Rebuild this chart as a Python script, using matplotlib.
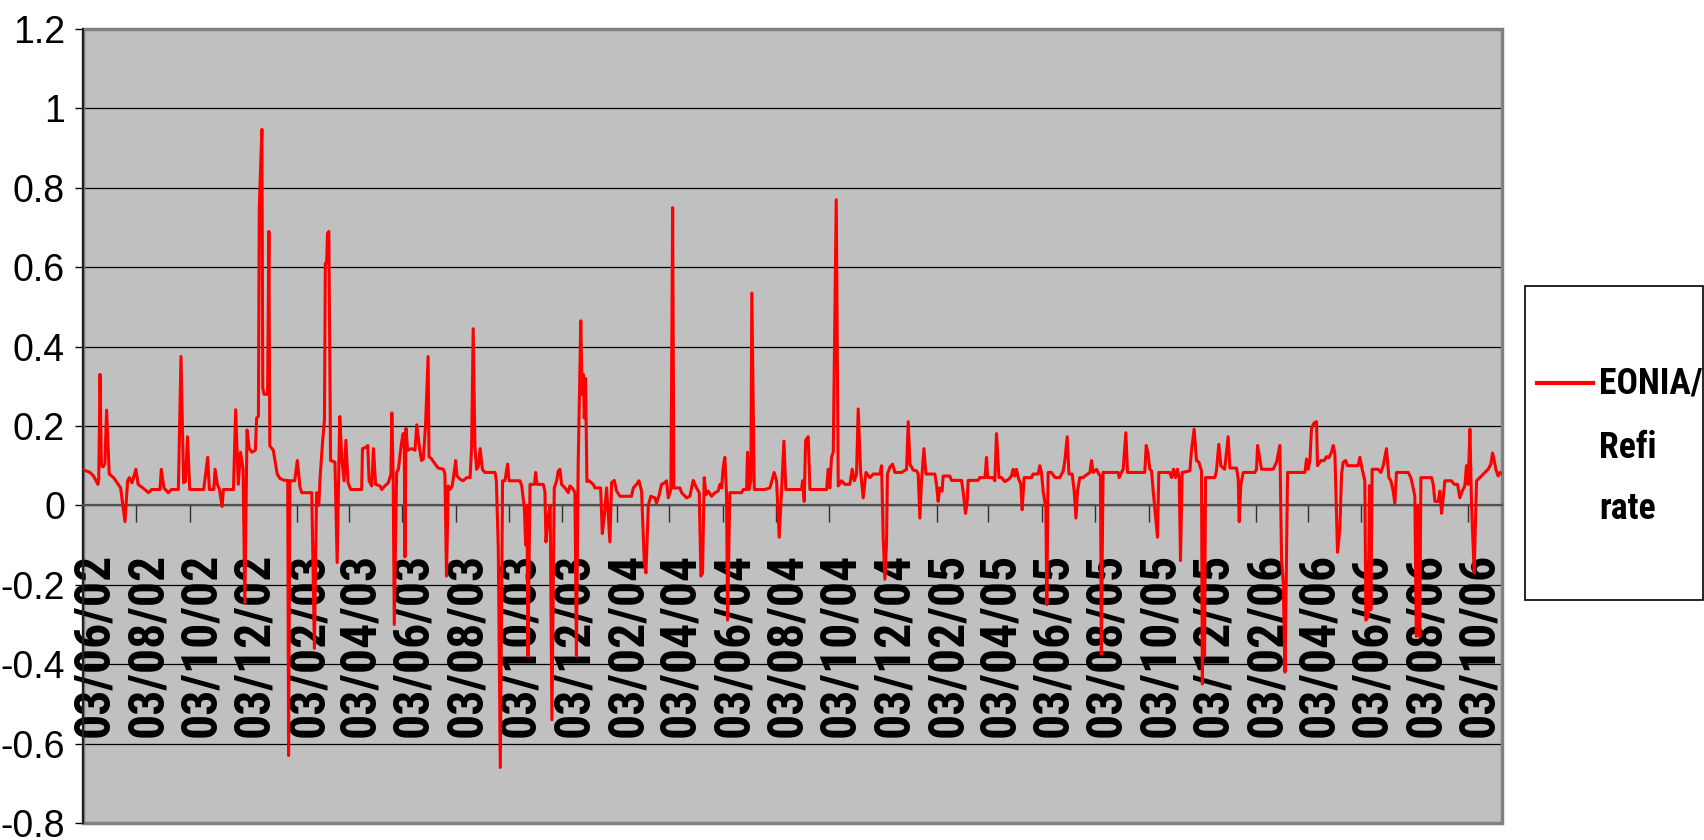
import numpy as np
import pandas as pd
import matplotlib
matplotlib.use("Agg")
import matplotlib.pyplot as plt
from matplotlib import font_manager
from matplotlib.patches import Rectangle
from matplotlib.lines import Line2D

# EONIA minus refi rate.
# each pair is (days since 3 Jun 2002, spread in percentage points)
start = pd.Timestamp("2002-06-03")

pts_2002 = [
    (0, 0.09), (8, 0.083), (12, 0.074), (15, 0.062), (17, 0.053), (18, 0.066), (19.5, 0.33),
    (21, 0.10), (23, 0.097), (25, 0.104), (27, 0.24), (30, 0.079), (35, 0.07), (39, 0.057),
    (43, 0.044), (48, -0.041), (51, 0.062), (53, 0.07), (56, 0.057), (60.5, 0.091), (63, 0.053),
    (69, 0.043), (75, 0.032), (78.5, 0.04), (88, 0.04), (89.5, 0.091), (92.5, 0.044), (97.5, 0.032),
    (101, 0.04), (109, 0.04), (112, 0.375), (115, 0.057), (117, 0.06), (119.5, 0.173), (122, 0.04),
    (138, 0.04), (142.5, 0.121), (144.5, 0.04), (149.5, 0.04), (151, 0.091), (153.5, 0.053),
    (156, 0.04), (159, -0.003), (160.5, 0.04), (172, 0.04), (174.5, 0.241), (177.5, 0.053),
    (180, 0.134), (183, 0.091), (185, -0.246), (187.5, 0.19), (190, 0.143), (193, 0.134),
    (197, 0.139), (198.5, 0.22), (200.5, 0.224), (201.5, 0.75), (204.5, 0.947), (205.5, 0.295),
    (207, 0.28), (211, 0.28),
]

pts_2003 = [
    (212.5, 0.69), (213.5, 0.15), (217.5, 0.139), (219.5, 0.113), (222, 0.079), (225, 0.068),
    (230, 0.063), (234, 0.063), (235, -0.63), (236.5, 0.062), (242, 0.062), (245, 0.113),
    (248, 0.046), (250, 0.032), (261.5, 0.032), (264.5, -0.36), (267, 0.032), (269.5, 0.0),
    (271, 0.07), (274, 0.164), (276, 0.215), (277, 0.61), (278.5, 0.61), (279.5, 0.685),
    (281, 0.69), (283, 0.113), (288, 0.109), (290.5, -0.144), (293.5, 0.224), (296, 0.113),
    (298.5, 0.062), (300.5, 0.164), (303, 0.057), (306, 0.04), (318.5, 0.04), (319.5, 0.143),
    (324, 0.147), (325.5, 0.151), (327, 0.062), (330, 0.049), (332, 0.143), (334.5, 0.053),
    (339.5, 0.049), (341.5, 0.04), (345, 0.049), (349, 0.057), (352, 0.079), (353, 0.233),
    (354.5, 0.079), (355.8, -0.30), (358.5, 0.083), (360.5, 0.091), (364, 0.156), (366, 0.181),
    (367.3, 0.143), (368, -0.13), (369.2, 0.194), (371, 0.139), (375.5, 0.143), (379.5, 0.139),
    (381.5, 0.203), (385, 0.139), (387, 0.113), (389, 0.117), (391.5, 0.2), (394.5, 0.375),
    (395.5, 0.123), (398.5, 0.117), (402.5, 0.104), (406, 0.094), (412, 0.091), (413.7, 0.079),
    (415.5, -0.178), (417.5, 0.049), (419.5, 0.04), (422, 0.049), (424.5, 0.087), (426, 0.113),
    (427.5, 0.074), (431, 0.066), (434.5, 0.062), (438.5, 0.07), (442.5, 0.07), (444.2, 0.147),
    (446, 0.445), (448, 0.147), (450, 0.091), (452, 0.10), (454, 0.143), (456.5, 0.091),
    (459.5, 0.083), (471, 0.083), (472.5, 0.062), (474.7, -0.11), (477, -0.66), (479.6, 0.062),
    (482.3, 0.062), (485.4, 0.104), (487, 0.062), (499.5, 0.062), (501.5, 0.049), (504.5, -0.007),
    (506, -0.10), (507.5, 0.0), (508.6, -0.38), (511, 0.053), (516, 0.053), (517.5, 0.083),
    (519, 0.053), (526, 0.053), (528, 0.036), (529.2, -0.092), (532, -0.024), (534, 0.0),
    (536, -0.54), (538.7, 0.044), (541.4, 0.062), (543.3, 0.087), (545.2, 0.091), (547, 0.053),
    (551, 0.044), (554.7, 0.032), (556.6, 0.049), (559.3, 0.044), (562.3, 0.032), (564, -0.38),
    (566, 0.1), (569, 0.465), (570.5, 0.28), (572, 0.33), (573, 0.22), (574.5, 0.32), (576, 0.06),
]

pts_2004 = [
    (578.3, 0.062), (583.3, 0.053), (585.2, 0.044), (591.7, 0.044), (593.6, -0.071),
    (595.9, -0.028), (598.5, 0.044), (602.3, -0.092), (604.2, 0.057), (607.3, 0.063), (610, 0.036),
    (613.8, 0.023), (627, 0.023), (629, 0.044), (632.8, 0.053), (635.5, 0.062), (638.5, 0.036),
    (641.6, -0.144), (643.5, -0.17), (646.2, 0.0), (649, 0.023), (653.7, 0.019), (655.6, 0.006),
    (658.7, 0.027), (661.3, 0.053), (665, 0.057), (667, 0.062), (669, 0.019), (672, 0.04),
    (674, 0.75), (675.4, 0.044), (682.3, 0.044), (684.2, 0.032), (690, 0.019), (693.7, 0.023),
    (697.5, 0.063), (701.3, 0.044), (704.4, 0.032), (706.3, -0.178), (708.2, -0.17), (710.1, 0.07),
    (712, 0.027), (714.7, 0.036), (718.5, 0.023), (722.3, 0.032), (726, 0.036), (728, 0.053),
    (730, 0.044), (731.8, 0.096), (733.7, 0.121), (735.6, 0.027), (736.8, -0.289), (739.4, 0.032),
    (752.8, 0.032), (754.7, 0.04), (758.5, 0.04), (759.6, 0.134), (761.2, 0.04), (763.4, 0.062),
    (764.5, 0.535), (767.3, 0.04), (779.4, 0.04), (785.2, 0.044), (790, 0.083), (792.8, 0.062),
    (795.8, -0.08), (798.5, 0.036), (801.2, 0.162), (803.4, 0.04), (821.4, 0.04), (822.5, 0.062),
    (824.4, 0.01), (826, 0.164), (829, 0.173), (830.9, 0.04), (850, 0.04), (851.8, 0.091),
    (853.7, 0.044), (855.6, 0.121), (857.6, 0.134), (861, 0.77), (863.3, 0.049), (867, 0.062),
    (871, 0.053), (876.6, 0.053), (879.3, 0.091), (881.6, 0.062), (884.2, 0.079), (886.1, 0.243),
    (888.8, 0.087), (891.8, 0.019), (895, 0.083), (899.5, 0.07), (903.3, 0.079), (911, 0.079),
    (912.8, 0.10), (914.7, -0.084), (916.6, -0.186), (918.5, -0.092), (919.5, 0.079),
    (922.3, 0.096), (925.4, 0.104), (928, 0.083), (935.7, 0.083), (941.4, 0.091),
]

pts_2005 = [
    (943.3, 0.211), (945.2, 0.104), (949, 0.089), (952.8, 0.087), (954.7, 0.079), (956.6, -0.032),
    (958.5, 0.062), (961.2, 0.143), (963.5, 0.079), (973.8, 0.079), (975.6, 0.053), (977.5, 0.01),
    (979.4, 0.044), (982, 0.036), (983.2, 0.074), (990.8, 0.074), (992.8, 0.063), (1004.2, 0.063),
    (1006, 0.036), (1008.8, -0.02), (1010.7, 0.01), (1011.8, 0.063), (1023.2, 0.063), (1025, 0.07),
    (1031, 0.07), (1032.8, 0.121), (1034, 0.07), (1040.4, 0.07), (1042.3, 0.062), (1044.2, 0.181),
    (1047, 0.07), (1050, 0.07), (1053.7, 0.06), (1058.3, 0.066), (1061.3, 0.074), (1063.2, 0.091),
    (1065, 0.074), (1067, 0.091), (1069, 0.07), (1072, 0.053), (1073.5, -0.011), (1075.8, 0.07),
    (1084.2, 0.07), (1086, 0.079), (1091.8, 0.079), (1093.7, 0.10), (1095.6, 0.083),
    (1097.5, 0.036), (1100.6, -0.007), (1101.7, -0.25), (1103.2, 0.083), (1107, 0.083),
    (1111, 0.07), (1116.6, 0.07), (1120.5, 0.087), (1122.3, 0.113), (1125, 0.173), (1127, 0.079),
    (1130.7, 0.079), (1133, 0.036), (1135, -0.032), (1136.8, 0.036), (1139.4, 0.07),
    (1143.2, 0.07), (1145.2, 0.074), (1151, 0.083), (1152.8, 0.113), (1154.7, 0.083),
    (1158.5, 0.091), (1161.2, 0.079), (1163, 0.074), (1164, -0.375), (1166, 0.083),
    (1183.3, 0.083), (1184.4, 0.07), (1187, 0.083), (1189, 0.091), (1192, 0.183), (1194, 0.083),
    (1213.7, 0.083), (1215.3, 0.151), (1217.5, 0.13), (1219.4, 0.091), (1221.4, 0.087),
    (1223.3, 0.036), (1228.2, -0.08), (1229.7, 0.083), (1242.3, 0.083), (1244.2, 0.07),
    (1246.5, 0.091), (1248.8, 0.07), (1251, 0.091), (1253, 0.07), (1254.5, -0.139),
    (1256.4, 0.083), (1265.2, 0.087), (1267.1, 0.139), (1270.1, 0.192), (1272.8, 0.113),
    (1275.5, 0.109), (1278.5, 0.087), (1279.5, -0.45), (1281, 0.0), (1282, -0.38), (1283.1, 0.07),
    (1293.7, 0.07), (1295.6, 0.087), (1298.3, 0.154), (1300.6, 0.10), (1305, 0.091),
]

pts_2006 = [
    (1309, 0.173), (1311, 0.094), (1318.6, 0.094), (1320.5, 0.066), (1321.6, -0.041),
    (1323.5, 0.053), (1326.2, 0.083), (1339.5, 0.083), (1341.4, 0.091), (1342.6, 0.151),
    (1345.2, 0.117), (1347.1, 0.091), (1360.5, 0.091), (1364.3, 0.109), (1368.1, 0.151),
    (1370, -0.135), (1371.9, -0.195), (1374, -0.42), (1376.9, 0.083), (1396.7, 0.083),
    (1398.6, 0.117), (1400.5, 0.091), (1402.4, 0.113), (1404.3, 0.194), (1407, 0.207),
    (1410, 0.211), (1411.1, 0.10), (1415, 0.113), (1418.8, 0.113), (1421.4, 0.123), (1424, 0.12),
    (1427.2, 0.134), (1429.1, 0.151), (1431, 0.13), (1434, -0.118), (1436.7, -0.058),
    (1438.6, 0.079), (1440.5, 0.109), (1443.2, 0.113), (1445.4, 0.10), (1457.6, 0.10),
    (1459.5, 0.121), (1462.2, 0.091), (1465.2, 0.062), (1466.4, -0.289), (1469.1, -0.28),
    (1470.5, 0.05), (1472.1, -0.263), (1473.6, 0.091), (1480.5, 0.091), (1483.5, 0.083),
    (1486.2, 0.10), (1490, 0.143), (1492.7, 0.07), (1495, 0.062), (1497.6, 0.036),
    (1499.5, 0.006), (1501.4, 0.083), (1514.8, 0.083), (1517.8, 0.07), (1520.5, 0.044),
    (1522.4, 0.023), (1524, -0.33), (1526, 0.0), (1528, -0.33), (1529.3, 0.07), (1541.5, 0.07),
    (1543.4, 0.053), (1545.3, 0.01), (1549.1, 0.01), (1551, 0.036), (1552.9, -0.02),
    (1554.8, 0.019), (1556.7, 0.062), (1564.3, 0.062), (1567.4, 0.053), (1571.2, 0.053),
    (1573.8, 0.019), (1576.5, 0.036), (1579.5, 0.049), (1581.4, 0.10), (1583.4, 0.053),
    (1585.3, 0.192), (1587.2, 0.0), (1590.2, -0.17), (1592.9, 0.062), (1596.7, 0.07),
    (1602.4, 0.083), (1606.2, 0.091), (1609.3, 0.104), (1611.2, 0.132), (1613.1, 0.113),
    (1615, 0.091), (1617.6, 0.074), (1619.6, 0.083), (1622, 0.079),
]

points = pts_2002 + pts_2003 + pts_2004 + pts_2005 + pts_2006
days = [p[0] for p in points]
spread = [p[1] for p in points]
dates = start + pd.to_timedelta(days, unit="D")

# ticks on the 3rd of every second month
tick_dates = pd.date_range("2002-06-01", "2006-10-01", freq="2MS") + pd.Timedelta(days=2)
tick_labels = [d.strftime("%d/%m/%y") for d in tick_dates]
y_ticks = [-0.8, -0.6, -0.4, -0.2, 0, 0.2, 0.4, 0.6, 0.8, 1.0, 1.2]
legend_lines = ["EONIA/", "Refi", "rate"]


def pick_font(cands, weight):
    # first narrow family that has the weight we need
    for c in cands:
        if any(f.name == c and f.weight >= weight for f in font_manager.fontManager.ttflist):
            return c
    return "Liberation Sans"


narrow_cands = ["Liberation Sans Narrow", "Arial Narrow", "Roboto Condensed",
                "Archivo Narrow", "Barlow Semi Condensed", "Asap Condensed"]
narrow_bold = [pick_font(narrow_cands, 700), "DejaVu Sans"]

plt.rcParams["font.family"] = ["Liberation Sans", "DejaVu Sans"]

fig = plt.figure(figsize=(17.04, 8.4), dpi=100)
ax = fig.add_axes([83 / 1704, 17 / 840, 1419 / 1704, 794 / 840])
ax.set_facecolor("#C0C0C0")

ax.plot(dates, spread, color="#FF0000", lw=2.2, zorder=3)

ax.set_ylim(-0.8, 1.2)
ax.set_xlim(start, start + pd.Timedelta(days=1622))
ax.set_yticks(y_ticks)
ax.set_yticklabels(["{:g}".format(round(v, 1)) for v in y_ticks])
ax.yaxis.grid(True, color="black", lw=0.9)
ax.set_axisbelow(True)

ax.spines["top"].set_visible(False)
ax.spines["right"].set_visible(False)
ax.spines["left"].set_color("#202020")
ax.spines["left"].set_linewidth(1.5)
ax.spines["bottom"].set_position(("data", 0))
ax.spines["bottom"].set_color("#505050")
ax.spines["bottom"].set_linewidth(1.6)

ax.set_xticks(tick_dates)
ax.tick_params(axis="x", direction="out", length=12, width=1, color="#303030", labelbottom=False)
ax.tick_params(axis="y", direction="out", length=6, width=1, pad=7, labelsize=27)

# grey frame of the plot area
ax.add_patch(Rectangle((0, 0), 1, 1, transform=ax.transAxes, fill=False,
                       edgecolor="#808080", lw=2.5, clip_on=False, zorder=2))

xlabels = []
for d, lab in zip(tick_dates, tick_labels):
    t = ax.annotate(lab, xy=(d, 0), xycoords="data", xytext=(8.5, -34), textcoords="offset points",
                    rotation=90, ha="center", va="top", fontsize=30, fontweight="bold",
                    family=narrow_bold, zorder=2, annotation_clip=False)
    xlabels.append(t)

# legend box drawn by hand so the sample sits next to the first text line
fig.add_artist(Rectangle((1525 / 1704, 1 - 600 / 840), 178 / 1704, 314 / 840,
                         transform=fig.transFigure, facecolor="white", edgecolor="black", lw=1.2))
fig.add_artist(Line2D([1537 / 1704, 1593 / 1704], [1 - 383 / 840, 1 - 383 / 840],
                      transform=fig.transFigure, color="#FF0000", lw=3))
leg_texts = []
for txt, base in zip(legend_lines, [394, 458, 519]):
    leg_texts.append(fig.text(1599 / 1704, 1 - base / 840, txt, fontsize=26, fontweight="bold",
                              family=narrow_bold, va="baseline", ha="left"))

# scale the narrow bold text so it takes the same room as in the original
fig.canvas.draw()
r = fig.canvas.get_renderer()
xl = xlabels[0].get_window_extent(r).height
for t in xlabels:
    t.set_fontsize(min(42, 30 * 184 / xl))
lw_ = leg_texts[0].get_window_extent(r).width
for t in leg_texts:
    t.set_fontsize(min(32, 26 * 104 / lw_))

fig.savefig("out.png", dpi=100)
